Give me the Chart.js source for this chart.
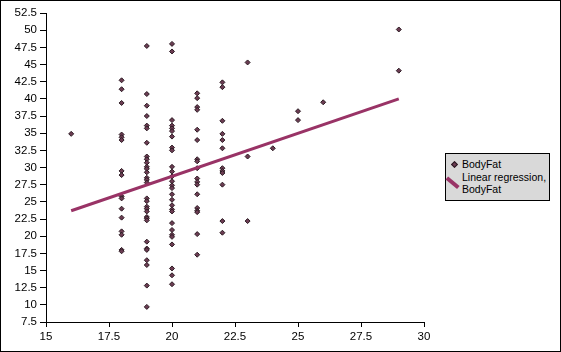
<!DOCTYPE html>
<html lang="en">
<head>
  <meta charset="UTF-8" />
  <title>BodyFat scatter</title>
  <script src="https://cdn.jsdelivr.net/npm/chart.js"></script>
  <style>
    body { margin: 0; background: #fff; }
    #frame {
      position: absolute; left: 0; top: 0; width: 561px; height: 352px;
      box-sizing: border-box; border: 1px solid #000; background: #fff;
    }
    #chart { position: absolute; left: 0; top: 0; }
    #legend {
      position: absolute; left: 444px; top: 152px; width: 105px; height: 48px;
      box-sizing: border-box; border: 1px solid #000; background: #d9d9d9;
      font: 10.5px "Liberation Sans", Arial, sans-serif; color: #000;
      padding: 4px 0 0 0;
    }
    .item { display: flex; align-items: flex-start; line-height: 12px; margin-bottom: 1px; }
    .icon { width: 16px; height: 12px; position: relative; flex: none; }
    .dot {
      position: absolute; left: 6px; top: 4px; width: 3px; height: 3px;
      background: #6b3c52; border: 1px solid #2b1a22; transform: rotate(45deg);
    }
    .line {
      position: absolute; left: 1px; top: 5px; width: 15px; height: 3.5px;
      background: #993366; transform: rotate(40deg); transform-origin: 0 50%;
    }
    .text { width: 86px; }
  </style>
</head>
<body>
  <div id="frame">
    <canvas id="chart" width="559" height="350"></canvas>
    <div id="legend"></div>
  </div>

  <script>
    // x position of each column of points, and the BodyFat values read in that column
    const columnX = [16, 18, 19, 20, 21, 22, 23, 24, 25, 26, 29];
    const columnY = [
      [34.9],
      [42.7, 41.4, 39.4, 34.8, 34.4, 34.0, 29.5, 28.9, 25.8, 25.5, 24.0, 22.7, 20.7, 20.2, 18.0, 17.8],
      [47.7, 40.7, 39.0, 37.5, 36.1, 35.7, 33.6, 31.6, 31.2, 30.7, 30.1, 29.8, 29.3, 28.5, 28.2, 27.8,
       25.5, 25.1, 24.3, 24.0, 23.6, 22.8, 22.6, 22.3, 19.2, 18.2, 18.0, 16.5, 15.8, 12.8, 9.7],
      [48.0, 46.9, 36.9, 36.1, 35.7, 35.3, 34.5, 32.9, 32.5, 30.1, 29.4, 28.7, 28.0, 27.4, 27.0, 26.1,
       25.3, 24.5, 23.9, 23.6, 21.9, 20.9, 20.2, 19.9, 18.8, 15.3, 14.3, 13.0],
      [40.8, 40.1, 38.8, 38.4, 35.5, 34.0, 31.2, 30.9, 29.9, 28.4, 27.9, 27.5, 26.1, 24.1, 23.7, 23.5, 20.3, 17.3],
      [42.4, 41.7, 36.8, 34.9, 34.0, 32.8, 29.9, 29.5, 29.2, 27.5, 22.2, 20.5],
      [45.3, 31.6, 22.2],
      [32.8],
      [38.2, 36.9],
      [39.5],
      [50.1, 44.1]
    ];

    // regression line end points
    const fitX = [16, 29];
    const fitY = [23.7, 40.0];

    const xTicks = [15, 17.5, 20, 22.5, 25, 27.5, 30];
    const yTicks = [7.5, 10, 12.5, 15, 17.5, 20, 22.5, 25, 27.5, 30, 32.5, 35, 37.5, 40, 42.5, 45, 47.5, 50, 52.5];

    const seriesNames = ['BodyFat', 'Linear regression, BodyFat'];

    const points = [];
    columnX.forEach((x, i) => columnY[i].forEach(y => points.push({ x: x, y: y })));
    const fit = fitX.map((x, i) => ({ x: x, y: fitY[i] }));

    const tickFont = { family: '"Liberation Sans", Arial, sans-serif', size: 11.5 };

    const ctx = document.getElementById('chart').getContext('2d');
    const chart = new Chart(ctx, {
      type: 'scatter',
      data: {
        datasets: [
          {
            label: seriesNames[0],
            data: points,
            pointStyle: 'rectRot',
            pointRadius: 2.5,
            backgroundColor: '#6b3c52',
            borderColor: '#2b1a22',
            borderWidth: 1,
            order: 2
          },
          {
            label: seriesNames[1],
            data: fit,
            type: 'line',
            showLine: true,
            pointRadius: 0,
            borderColor: '#993366',
            borderWidth: 3,
            fill: false,
            order: 1
          }
        ]
      },
      options: {
        responsive: false,
        animation: false,
        devicePixelRatio: 1,
        layout: { padding: { left: 0, top: 12, right: 136, bottom: 0 } },
        plugins: { legend: { display: false }, tooltip: { enabled: false } },
        scales: {
          x: {
            type: 'linear',
            min: 15, max: 30,
            afterBuildTicks: s => { s.ticks = xTicks.map(v => ({ value: v })); },
            afterFit: s => { s.height = 29; },
            grid: { display: true, drawOnChartArea: false, drawTicks: true, tickLength: 5, color: '#000' },
            border: { display: true, color: '#000', width: 1 },
            ticks: { color: '#000', font: tickFont, padding: 3, maxRotation: 0, autoSkip: false,
                     callback: v => String(v) }
          },
          y: {
            type: 'linear',
            min: 7.5, max: 52.5,
            afterBuildTicks: s => { s.ticks = yTicks.map(v => ({ value: v })); },
            afterFit: s => { s.width = 45; },
            grid: { display: true, drawOnChartArea: false, drawTicks: true, tickLength: 6, color: '#000' },
            border: { display: true, color: '#000', width: 1 },
            ticks: { color: '#000', font: tickFont, padding: 3, autoSkip: false,
                     callback: v => String(v) }
          }
        }
      }
    });

    // legend box like the original, built from the dataset labels
    const legend = document.getElementById('legend');
    chart.data.datasets.forEach((ds, i) => {
      const row = document.createElement('div');
      row.className = 'item';
      const icon = document.createElement('div');
      icon.className = 'icon';
      const mark = document.createElement('div');
      mark.className = i === 0 ? 'dot' : 'line';
      icon.appendChild(mark);
      const text = document.createElement('div');
      text.className = 'text';
      text.textContent = ds.label;
      row.appendChild(icon);
      row.appendChild(text);
      legend.appendChild(row);
    });
  </script>
</body>
</html>
